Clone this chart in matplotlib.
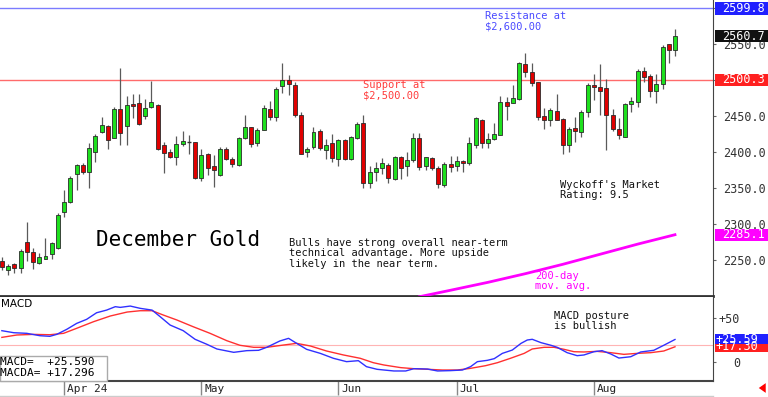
import matplotlib

matplotlib.use("Agg")
import matplotlib.pyplot as plt
from matplotlib.lines import Line2D
from matplotlib.patches import Rectangle
from matplotlib.transforms import blended_transform_factory

# daily candles, mid-March to Aug 20 (bar index = trading day)
OPEN = [2248.6, 2236, 2244, 2238.5, 2275.5, 2261.5, 2245.5, 2251.4, 2258, 2267,
        2316, 2331, 2369.4, 2381.5, 2372, 2400.4, 2427.4, 2436, 2420, 2459,
        2436, 2466, 2467.6, 2450, 2462, 2465, 2409, 2400.4, 2393, 2410.7,
        2414, 2414, 2364.4, 2397, 2380.6, 2368, 2404, 2390.3, 2382, 2420,
        2434, 2412, 2430.6, 2459, 2449, 2491.7, 2500, 2493, 2452, 2400.4,
        2406.5, 2429.6, 2403, 2412, 2390, 2416.7, 2390.3, 2419, 2440.7, 2356.5,
        2372.6, 2377.4, 2382, 2362, 2392.6, 2380, 2389, 2419, 2380, 2392,
        2377.4, 2354, 2383.3, 2380.6, 2387.5, 2384.3, 2409.7, 2444.4, 2413, 2417.6,
        2423.6, 2469, 2467.6, 2473.6, 2522, 2511.5, 2497, 2450.4, 2444.4, 2457.4,
        2446, 2409, 2433, 2428, 2455, 2492.6, 2490, 2489, 2451.4, 2432,
        2421.3, 2466, 2470, 2512.5, 2505.6, 2485, 2494, 2550, 2541.7]
HIGH = [2254, 2244.4, 2246, 2265, 2303, 2267, 2260, 2280.5, 2275.5, 2315,
        2347, 2366, 2383, 2384, 2412, 2425, 2449, 2437.5, 2463, 2516,
        2478, 2480, 2480, 2473, 2499, 2466, 2413.5, 2404, 2422, 2429,
        2423.6, 2414, 2404, 2398, 2396, 2407, 2406.5, 2393.5, 2421, 2451,
        2435, 2433, 2465, 2471, 2490, 2523, 2507, 2497, 2456, 2406.5,
        2435, 2432, 2418, 2425, 2417.6, 2417.6, 2422, 2442, 2451, 2380,
        2386.5, 2392, 2384, 2394, 2394, 2400.4, 2426, 2426, 2393.5, 2393.5,
        2381, 2386.5, 2394.4, 2394.4, 2389, 2420.4, 2449, 2445.4, 2426, 2440,
        2478, 2476, 2493, 2525.5, 2537, 2523, 2497.6, 2460.6, 2460.6, 2480.5,
        2447, 2434, 2448, 2458, 2495.4, 2508, 2522, 2501, 2460, 2447,
        2467.6, 2476, 2515, 2517.6, 2508, 2508, 2548, 2550, 2570.4]
LOW = [2236, 2229, 2232, 2232, 2248, 2237.5, 2244, 2251, 2252, 2265,
       2310, 2329, 2347, 2370, 2349.6, 2386.5, 2426, 2404, 2419, 2410,
       2410, 2447, 2437, 2445.5, 2460.6, 2403, 2371, 2392, 2382, 2408,
       2397, 2362, 2359, 2368, 2352, 2367, 2389, 2379, 2381, 2417.6,
       2406.5, 2408, 2430, 2444, 2443, 2481.5, 2479, 2448.6, 2397, 2393.5,
       2404, 2403, 2390, 2386.5, 2380, 2389, 2389, 2417.6, 2349.6, 2349.6,
       2360, 2370, 2356.5, 2361, 2363, 2366, 2386.5, 2375, 2375, 2375,
       2349.6, 2352, 2372.6, 2374, 2372.6, 2382, 2406, 2405, 2405, 2416.7,
       2423.6, 2444.4, 2467.6, 2472, 2504.6, 2491, 2444.4, 2431.5, 2436, 2444,
       2397, 2399.6, 2414, 2421, 2448, 2472, 2452, 2403, 2429.6, 2418,
       2420.4, 2456, 2462, 2497, 2476, 2468.6, 2487, 2523, 2533]
CLOSE = [2240.3, 2242, 2238.5, 2263, 2261.5, 2247, 2254, 2255.5, 2273.6, 2312,
         2331, 2363.4, 2381.5, 2372.6, 2405, 2422, 2437, 2416.7, 2459, 2426,
         2465, 2464.5, 2439, 2460.6, 2469, 2404, 2399, 2393.5, 2410.7, 2415,
         2414, 2363.4, 2396, 2378, 2375, 2404, 2390, 2383.3, 2420, 2435,
         2411, 2430.6, 2460.6, 2449, 2487.5, 2500, 2494.4, 2451.4, 2397, 2403.7,
         2428, 2405, 2409, 2392, 2416.7, 2390, 2420.4, 2438.5, 2356.5, 2372.6,
         2378, 2385, 2363.4, 2393.5, 2377.4, 2389, 2419, 2379.6, 2392.6, 2377.4,
         2355.6, 2383.3, 2379.6, 2387.5, 2384.3, 2412, 2446.8, 2413, 2418, 2425,
         2469, 2464, 2475.4, 2523, 2511.5, 2496, 2449, 2444.4, 2458.3, 2444.4,
         2409, 2432, 2429, 2455, 2493, 2490, 2485, 2451.4, 2431.5, 2423,
         2466.7, 2470.8, 2513, 2504, 2485, 2494.4, 2546, 2541.7, 2560.7]

MONTH_POS = [10, 32, 54, 73, 95]
MONTH_LABELS = ["Apr 24", "May", "Jun", "Jul", "Aug"]

PRICE_TICKS = [2250, 2300, 2350, 2400, 2450, 2500, 2550, 2600]
PRICE_TICK_LABELS = ["2250.0", "2300.0", "2350.0", "2400.0", "2450.0", "", "2550.0", ""]

RESISTANCE = 2599.8
SUPPORT = 2500.3

MA_POS = [67, 72, 78, 84, 90, 96, 102, 108]
MA_VALUE = [2199, 2208, 2219, 2231, 2244, 2258, 2272, 2285.1]

MACD_POS = [0, 1.9, 4.0, 6.1, 7.7, 8.8, 10.4, 12.0, 13.6, 15.2, 16.8, 18.2, 19.0,
            20.6, 22.2, 24.1, 25.4, 27.0, 29.1, 31.0, 32.9, 34.5, 37.2, 39.3,
            41.2, 42.5, 44.6, 46.0, 47.3, 48.9, 51.1, 53.2, 55.3, 57.2, 58.5,
            60.2, 61.3, 62.9, 64.8, 66.1, 68.3, 69.9, 72.0, 73.9, 75.2, 76.3,
            77.9, 79.0, 80.3, 81.9, 83.3, 84.3, 85.1, 86.5, 88.1, 89.1, 90.7,
            92.3, 93.4, 95.0, 96.3, 97.7, 99.0, 100.9, 102.5, 104.6, 106.2, 108]
MACD_VALUE = [35.6, 33.3, 32.6, 29.9, 29.2, 31.4, 37.1, 43.9, 48.5, 56, 59, 62.9,
              62.1, 63.6, 61, 59, 51.5, 42, 35.6, 25.8, 20.1, 14.8, 11, 12.9,
              13.3, 16.7, 23.9, 26.9, 21.2, 14.4, 9.8, 4.2, 0.4, 1.5, -5.3, -8.3,
              -9.1, -10.2, -10.2, -7.6, -8, -10.2, -9.8, -9.1, -5.3, 0.4, 1.9,
              3.8, 9.8, 13.6, 21.2, 25, 25.8, 22, 19, 16.7, 10.6, 7.2, 8, 11.7,
              12.9, 9.1, 4.5, 6, 11.4, 13.3, 19, 25.59]
SIGNAL_POS = [0, 2.4, 5.1, 7.7, 9.9, 12.0, 14.7, 17.4, 20.1, 22.2, 24.1, 25.9,
              28.1, 30.7, 33.4, 36.1, 38.2, 40.4, 42.5, 45.2, 47.3, 49.5, 52.1,
              54.8, 57.5, 59.6, 61.3, 64.0, 66.1, 68.3, 70.7, 73.1, 75.2, 77.6,
              79.5, 81.6, 83.8, 85.1, 87.0, 88.6, 90.2, 91.8, 93.4, 95.5, 97.7,
              99.8, 101.9, 104.1, 106.2, 108]
SIGNAL_VALUE = [28, 30.7, 31.4, 31, 32.6, 38.3, 45.8, 52.3, 56.8, 58.3, 58.3,
                53.4, 47.7, 40.1, 32.6, 24.2, 19, 16.7, 16.7, 19.3, 21.2, 18.2,
                12.5, 8, 4.2, -0.8, -3.4, -6.4, -7.6, -8.3, -9.1, -9.1, -7.2,
                -4.2, -0.8, 4.2, 9.8, 14.8, 16.7, 16.7, 14.4, 11.7, 11.4, 12.1,
                10.6, 8.7, 9.8, 10.6, 12.5, 17.296]

W, H = 768, 397
MONO = "DejaVu Sans Mono"
GREEN = "#1ee01e"
RED = "#e00000"


def px_box(left, top, right, bottom):
    return [left / W, 1 - bottom / H, (right - left) / W, (bottom - top) / H]


def fig_text(fig, x, y, text, **kwargs):
    kwargs.setdefault("family", MONO)
    kwargs.setdefault("fontsize", 7.5)
    kwargs.setdefault("va", "top")
    kwargs.setdefault("linespacing", 1.05)
    return fig.text(x / W, 1 - y / H, text, **kwargs)


def value_tag(fig, axis, value, label, face, height_px, x_text, color="white"):
    y_disp = axis.transData.transform((0, value))[1]
    y_frac = y_disp / fig.bbox.height
    half = height_px / 2 / H
    fig.add_artist(Rectangle((715 / W, y_frac - half), 53 / W, 2 * half,
                             transform=fig.transFigure, facecolor=face,
                             edgecolor="none", zorder=5))
    fig.text(x_text / W, y_frac, label, color=color, ha="left", va="center",
             family=MONO, fontsize=8.5, zorder=6)


fig = plt.figure(figsize=(W / 100, H / 100), dpi=100)
price_ax = fig.add_axes(px_box(0, 0, 713, 296))
macd_ax = fig.add_axes(px_box(0, 297, 713, 381))

for axis in (price_ax, macd_ax):
    axis.set_xlim(-0.3, 114.1)
    axis.spines["top"].set_visible(False)
    axis.spines["left"].set_visible(False)
    axis.spines["right"].set_color("#444444")
    axis.yaxis.tick_right()
    axis.tick_params(axis="y", direction="out", length=2.2, color="#666666",
                     labelcolor="#333333", labelsize=8.5)

# --- price pane
price_ax.set_ylim(2200, 2611)
price_ax.spines["bottom"].set_color("#333333")
price_ax.spines["bottom"].set_linewidth(2)
price_ax.set_xticks([])
price_ax.set_yticks(PRICE_TICKS)
price_ax.set_yticklabels(PRICE_TICK_LABELS, family=MONO)
price_ax.tick_params(axis="y", pad=5)

body_w = 0.64
for i, (o, h, lo, c) in enumerate(zip(OPEN, HIGH, LOW, CLOSE)):
    price_ax.vlines(i, lo, h, color="#5a5a5a", linewidth=0.9, zorder=2)
    if abs(c - o) < 0.3:
        price_ax.hlines(o, i - body_w / 2, i + body_w / 2, color="#333333",
                        linewidth=1, zorder=3)
        continue
    face = GREEN if c > o else RED
    price_ax.add_patch(Rectangle((i - body_w / 2, min(o, c)), body_w, abs(c - o),
                                 facecolor=face, edgecolor="#2a2a2a",
                                 linewidth=0.6, zorder=3))

price_ax.axhline(RESISTANCE, color="#7b7bff", linewidth=1, zorder=1)
price_ax.axhline(SUPPORT, color="#ff6b6b", linewidth=1, zorder=1)
price_ax.plot(MA_POS, MA_VALUE, color="#ff00ff", linewidth=2, zorder=4)

# --- MACD pane
macd_ax.set_ylim(-21.6, 73.9)
macd_ax.spines["bottom"].set_color("#444444")
macd_ax.spines["bottom"].set_linewidth(1.5)
macd_ax.set_yticks([0, 50])
macd_ax.set_yticklabels(["0", "+50"], family=MONO)
macd_ax.tick_params(axis="y", pad=17.3)
for label in macd_ax.get_yticklabels():
    label.set_horizontalalignment("right")
macd_ax.set_xticks(MONTH_POS)
macd_ax.set_xticklabels([""] * len(MONTH_POS))
macd_ax.tick_params(axis="x", direction="out", length=10, color="#888888", width=1)
macd_ax.axhline(19.5, color="#ffb4b4", linewidth=0.8, zorder=1)
macd_ax.plot(SIGNAL_POS, SIGNAL_VALUE, color="#ff3030", linewidth=1, zorder=3)
macd_ax.plot(MACD_POS, MACD_VALUE, color="#3030ff", linewidth=1, zorder=3)

date_tr = blended_transform_factory(macd_ax.transData, fig.transFigure)
for pos, label in zip(MONTH_POS, MONTH_LABELS):
    macd_ax.text(pos + 0.45, 1 - 388.5 / H, label, transform=date_tr, ha="left",
                 va="center", family=MONO, fontsize=8, color="#222222", clip_on=False)

fig.add_artist(Line2D([0, 713 / W], [1 - 395.5 / H] * 2, color="#cccccc", linewidth=1))

# MACD value box, lower left
fig.add_artist(Rectangle((0, 1 - 380.5 / H), 107 / W, 25 / H, transform=fig.transFigure,
                         facecolor="white", edgecolor="#aaaaaa", linewidth=1, zorder=5))
fig_text(fig, 0, 362, "MACD=  +25.590", va="center", fontsize=8, zorder=6)
fig_text(fig, 0, 373.5, "MACDA= +17.296", va="center", fontsize=8, zorder=6)
fig_text(fig, 1, 299, "MACD", family="DejaVu Sans", fontsize=7.5)

# annotations
fig_text(fig, 485, 11, "Resistance at\n$2,600.00", color="#4a4aff")
fig_text(fig, 363, 80, "Support at\n$2,500.00", color="#ff3b3b")
fig_text(fig, 96, 240, "December Gold", va="center", fontsize=15, color="black")
fig_text(fig, 289, 238, "Bulls have strong overall near-term\n"
         "technical advantage. More upside\nlikely in the near term.", color="#111111")
fig_text(fig, 560, 180, "Wyckoff's Market\nRating: 9.5", color="#111111")
fig_text(fig, 535, 271, "200-day\nmov. avg.", color="#ff00ff")
fig_text(fig, 554, 311, "MACD posture\nis bullish", color="#111111")

# right-hand value tags
value_tag(fig, price_ax, RESISTANCE, "2599.8", "#2020ff", 13, 722)
value_tag(fig, price_ax, CLOSE[-1], "2560.7", "#111111", 12, 722)
value_tag(fig, price_ax, SUPPORT, "2500.3", "#ff2020", 12, 722)
value_tag(fig, price_ax, MA_VALUE[-1], "2285.1", "#ff00ff", 12, 722)
value_tag(fig, macd_ax, SIGNAL_VALUE[-1], "+17.30", "#ff2020", 10, 716)
value_tag(fig, macd_ax, MACD_VALUE[-1], "+25.59", "#2020ff", 10, 716)

price_ax.annotate("", xy=(756 / W, 1 - 388 / H), xytext=(767 / W, 1 - 388 / H),
                  xycoords="figure fraction", textcoords="figure fraction",
                  annotation_clip=False,
                  arrowprops=dict(arrowstyle="simple,head_length=0.5,head_width=0.7,tail_width=0.3",
                                  color="#ff0000", linewidth=0))

fig.savefig("out.png", dpi=100, facecolor="white")
